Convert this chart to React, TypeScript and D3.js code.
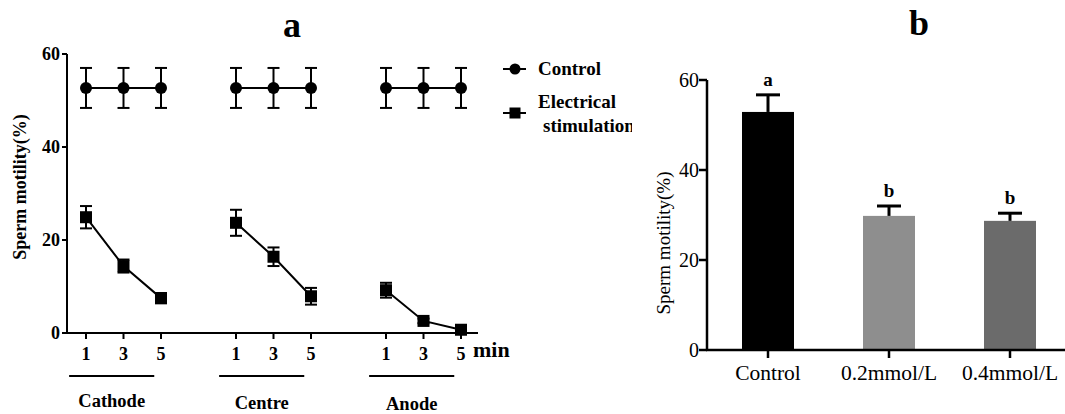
import React from "react";
import * as d3 from "d3";

// panel a: three electrode sites, three time points each
const SITES = ["Cathode", "Centre", "Anode"];
const MINUTES = ["1", "3", "5"];
const CONTROL_MEAN = [
  [52.7, 52.7, 52.7],
  [52.7, 52.7, 52.7],
  [52.7, 52.7, 52.7],
];
const CONTROL_ERR = [
  [4.3, 4.3, 4.3],
  [4.3, 4.3, 4.3],
  [4.3, 4.3, 4.3],
];
const STIM_MEAN = [
  [24.9, 14.4, 7.5],
  [23.7, 16.4, 7.9],
  [9.2, 2.6, 0.7],
];
const STIM_ERR = [
  [2.4, 1.4, 1.1],
  [2.8, 2.0, 1.8],
  [1.6, 0.5, 0.5],
];
const Y_TICKS_A = [0, 20, 40, 60];

// panel b
const GROUPS = ["Control", "0.2mmol/L", "0.4mmol/L"];
const BAR_MEAN = [52.9, 29.8, 28.7];
const BAR_ERR = [3.8, 2.2, 1.7];
const BAR_LETTERS = ["a", "b", "b"];
const BAR_COLORS = ["#000000", "#8e8e8e", "#6b6b6b"];
const Y_TICKS_B = [0, 20, 40, 60];

const SERIF = "'Liberation Serif', 'Times New Roman', serif";

const App = () => {
  // ---- panel a scales
  const xA = d3.scaleLinear().domain([0, 10]).range([86, 461]);
  const yA = d3.scaleLinear().domain([0, 60]).range([333, 54]);
  const pos = (site: number, m: number) => xA(site * 4 + m);
  const line = d3.line<[number, number]>().x((d) => d[0]).y((d) => d[1]);

  const errBar = (x: number, mean: number, err: number, key: string) => (
    <g key={key} stroke="#000" strokeWidth={2}>
      <line x1={x} x2={x} y1={yA(mean + err)} y2={yA(mean - err)} />
      <line x1={x - 6} x2={x + 6} y1={yA(mean + err)} y2={yA(mean + err)} />
      <line x1={x - 6} x2={x + 6} y1={yA(mean - err)} y2={yA(mean - err)} />
    </g>
  );

  // ---- panel b scales
  const xB = d3.scalePoint<string>().domain(GROUPS).range([707.5, 1070.5]).padding(0.5);
  const yB = d3.scaleLinear().domain([0, 60]).range([350, 80]);
  const barW = 52;
  const siteY = [407, 409, 410];

  return (
    <svg width={1065} height={414} style={{ position: "absolute", left: 0, top: 0, background: "#fff" }}>
      <defs>
        <clipPath id="clipA">
          <rect x={0} y={0} width={632} height={414} />
        </clipPath>
      </defs>
      <g clipPath="url(#clipA)" fontFamily={SERIF} fontWeight="bold">
        <text x={292} y={37} fontSize={36} textAnchor="middle">a</text>

        {/* axes */}
        <line x1={67} x2={67} y1={yA(60)} y2={yA(0) + 1} stroke="#000" strokeWidth={2} />
        <line x1={66} x2={478} y1={yA(0)} y2={yA(0)} stroke="#000" strokeWidth={2} />
        {Y_TICKS_A.map((t) => (
          <g key={t}>
            <line x1={62} x2={67} y1={yA(t)} y2={yA(t)} stroke="#000" strokeWidth={2} />
            <text x={60} y={yA(t)} dy="0.35em" fontSize={18} textAnchor="end">{t}</text>
          </g>
        ))}
        <text transform={`translate(26,187) rotate(-90)`} fontSize={18} textAnchor="middle">
          Sperm motility(%)
        </text>
        {SITES.map((s, si) =>
          MINUTES.map((m, mi) => (
            <g key={s + m}>
              <line x1={pos(si, mi)} x2={pos(si, mi)} y1={yA(0)} y2={yA(0) + 6} stroke="#000" strokeWidth={2} />
              <text x={pos(si, mi)} y={360} fontSize={18} textAnchor="middle">{m}</text>
            </g>
          ))
        )}
        <text x={473} y={357} fontSize={22}>min</text>

        {SITES.map((s, si) => {
          const x1 = xA(si * 4 - 0.45);
          const x2 = xA(si * 4 + 1.82);
          return (
            <g key={s}>
              <line x1={x1} x2={x2} y1={376} y2={376} stroke="#000" strokeWidth={2} />
              <text x={(x1 + x2) / 2} y={siteY[si]} fontSize={18.5} textAnchor="middle">{s}</text>
            </g>
          );
        })}

        {/* series */}
        {SITES.map((s, si) => {
          const cPts: [number, number][] = CONTROL_MEAN[si].map((v, mi) => [pos(si, mi), yA(v)]);
          const sPts: [number, number][] = STIM_MEAN[si].map((v, mi) => [pos(si, mi), yA(v)]);
          return (
            <g key={"ser" + s}>
              <path d={line(cPts) || ""} fill="none" stroke="#000" strokeWidth={2} />
              <path d={line(sPts) || ""} fill="none" stroke="#000" strokeWidth={2} />
              {CONTROL_MEAN[si].map((v, mi) => errBar(pos(si, mi), v, CONTROL_ERR[si][mi], `ce${si}${mi}`))}
              {STIM_MEAN[si].map((v, mi) => errBar(pos(si, mi), v, STIM_ERR[si][mi], `se${si}${mi}`))}
              {cPts.map((p, mi) => (
                <circle key={"c" + mi} cx={p[0]} cy={p[1]} r={6} fill="#000" />
              ))}
              {sPts.map((p, mi) => (
                <rect key={"s" + mi} x={p[0] - 6} y={p[1] - 6} width={12} height={12} fill="#000" />
              ))}
            </g>
          );
        })}

        {/* legend */}
        <line x1={503} x2={526} y1={69} y2={69} stroke="#000" strokeWidth={2} />
        <circle cx={515} cy={69} r={5.5} fill="#000" />
        <text x={538} y={75} fontSize={19}>Control</text>
        <line x1={503} x2={526} y1={113} y2={113} stroke="#000" strokeWidth={2} />
        <rect x={509.5} y={107.5} width={11} height={11} fill="#000" />
        <text x={538} y={108} fontSize={19}>Electrical</text>
        <text x={543} y={132} fontSize={19}>stimulation</text>
      </g>

      {/* ---- panel b */}
      <g fontFamily={SERIF}>
        <text x={919} y={35} fontSize={36} fontWeight="bold" textAnchor="middle">b</text>
        {GROUPS.map((g, i) => {
          const cx = xB(g) as number;
          return (
            <g key={g}>
              <rect x={cx - barW / 2} y={yB(BAR_MEAN[i])} width={barW} height={yB(0) - yB(BAR_MEAN[i])} fill={BAR_COLORS[i]} />
              <line x1={cx} x2={cx} y1={yB(BAR_MEAN[i])} y2={yB(BAR_MEAN[i] + BAR_ERR[i])} stroke="#000" strokeWidth={3} />
              <line x1={cx - 12} x2={cx + 12} y1={yB(BAR_MEAN[i] + BAR_ERR[i])} y2={yB(BAR_MEAN[i] + BAR_ERR[i])} stroke="#000" strokeWidth={3} />
              <text x={cx} y={yB(BAR_MEAN[i] + BAR_ERR[i]) - 9} fontSize={19} fontWeight="bold" textAnchor="middle">
                {BAR_LETTERS[i]}
              </text>
              <line x1={cx} x2={cx} y1={yB(0)} y2={yB(0) + 8} stroke="#000" strokeWidth={2.5} />
              <text x={cx} y={380} fontSize={21.5} textAnchor="middle">{g}</text>
            </g>
          );
        })}
        <line x1={707} x2={707} y1={yB(60)} y2={yB(0) + 1} stroke="#000" strokeWidth={2.5} />
        <line x1={706} x2={1065} y1={yB(0)} y2={yB(0)} stroke="#000" strokeWidth={2.5} />
        {Y_TICKS_B.map((t) => (
          <g key={t}>
            <line x1={699} x2={707} y1={yB(t)} y2={yB(t)} stroke="#000" strokeWidth={2.5} />
            <text x={699} y={yB(t)} dy="0.35em" fontSize={20} textAnchor="end">{t}</text>
          </g>
        ))}
        <text transform={`translate(670,243) rotate(-90)`} fontSize={19} textAnchor="middle">
          Sperm motility(%)
        </text>
      </g>
    </svg>
  );
};

export default App;
